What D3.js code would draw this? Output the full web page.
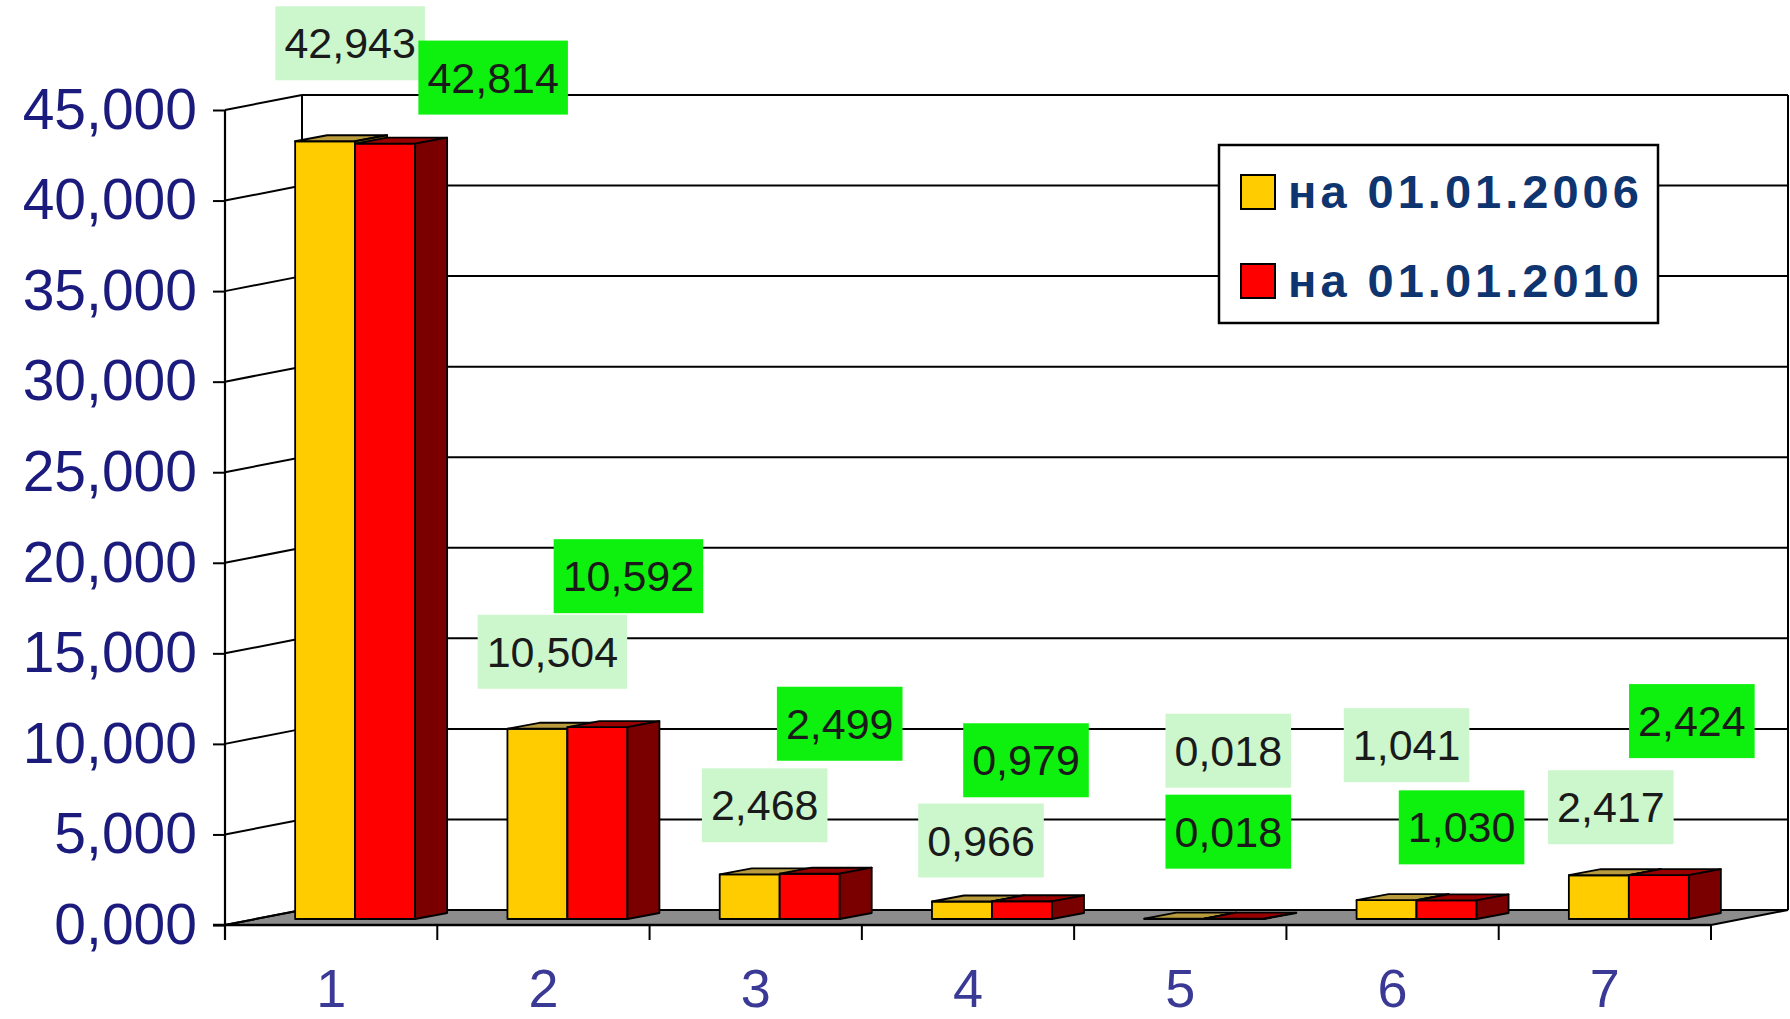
<!DOCTYPE html>
<html><head><meta charset="utf-8">
<script src="https://cdn.jsdelivr.net/npm/d3@7"></script>
<style>html,body{margin:0;padding:0;background:#fff;} svg{display:block}</style>
</head><body><svg id="chart" width="1790" height="1019"></svg>
<script>
// ---- data ----
const categories = ["1", "2", "3", "4", "5", "6", "7"];
const seriesNames = ["на 01.01.2006", "на 01.01.2010"];
const values2006 = [42.943, 10.504, 2.468, 0.966, 0.018, 1.041, 2.417];
const values2010 = [42.814, 10.592, 2.499, 0.979, 0.018, 1.030, 2.424];
const yTicks = [0, 5, 10, 15, 20, 25, 30, 35, 40, 45];

// ---- layout (label offsets from bar-top centre, px) ----
const labelOffsets2006 = [[25,-98],[15,-77],[15,-69],[19,-61],[54,-168],[20,-155],[12,-68]];
const labelOffsets2010 = [[108,-66],[31,-151],[30,-150],[4,-141],[-6,-87],[15,-73],[33,-154]];

const FONT = "'Liberation Sans', Arial, sans-serif";
const svg = d3.select("#chart");
const FRONT_L = 225, FRONT_R = 1711, BASE = 925, TOP = 110;
const DX = 77, DY = -15;     // wall depth
const OX = 24, OY = -6;      // bar front offset
const BDX = 32, BDY = -6;    // bar depth

const x0 = d3.scaleBand().domain(categories).range([FRONT_L, FRONT_R]).paddingInner(0).paddingOuter(0);
const x1 = d3.scaleBand().domain(seriesNames).range([-60, 60]);
const y = d3.scaleLinear().domain([0, 45]).range([BASE, TOP]);
const fmt = d3.formatLocale({decimal: ",", thousands: " ", grouping: [3], currency: ["", ""]}).format(".3f");

const series = [
  {name: seriesNames[0], values: values2006, front: "#ffcc00", top: "#b89b3c", side: "#8a6f00", label: "#ccf7cc", offs: labelOffsets2006},
  {name: seriesNames[1], values: values2010, front: "#ff0000", top: "#990000", side: "#7a0000", label: "#0ef00e", offs: labelOffsets2010}
];

// ---- walls & floor ----
const walls = svg.append("g");
const backL = FRONT_L + DX, backR = FRONT_R + DX;
walls.append("polygon")
  .attr("points", [[FRONT_L, BASE], [FRONT_R, BASE], [backR, BASE + DY], [backL, BASE + DY]].map(p => p.join(",")).join(" "))
  .attr("fill", "#8c8c8c").attr("stroke", "#000").attr("stroke-width", 2);
yTicks.forEach(t => {
  const yy = y(t);
  walls.append("line").attr("x1", FRONT_L).attr("y1", yy).attr("x2", backL).attr("y2", yy + DY)
    .attr("stroke", "#000").attr("stroke-width", 2);
  walls.append("line").attr("x1", backL).attr("y1", yy + DY).attr("x2", backR).attr("y2", yy + DY)
    .attr("stroke", "#000").attr("stroke-width", 2);
});
walls.append("line").attr("x1", backL).attr("y1", y(45) + DY).attr("x2", backL).attr("y2", BASE + DY).attr("stroke", "#000").attr("stroke-width", 2);
walls.append("line").attr("x1", backR).attr("y1", y(45) + DY).attr("x2", backR).attr("y2", BASE + DY).attr("stroke", "#000").attr("stroke-width", 2);

// ---- bars ----
const bars = svg.append("g");
categories.forEach((c, i) => {
  series.forEach(s => {
    const v = s.values[i];
    const xl = x0(c) + x0.bandwidth() / 2 + x1(s.name) + OX;
    const xr = xl + x1.bandwidth();
    const yt = y(v) + OY, yb = y(0) + OY;
    const g = bars.append("g").attr("stroke", "#000").attr("stroke-width", 1.8).attr("stroke-linejoin", "round");
    g.append("polygon").attr("points", [[xl, yb], [xl, yt], [xr, yt], [xr, yb]].map(p => p.join(",")).join(" ")).attr("fill", s.front);
    g.append("polygon").attr("points", [[xl, yt], [xl + BDX, yt + BDY], [xr + BDX, yt + BDY], [xr, yt]].map(p => p.join(",")).join(" ")).attr("fill", s.top);
    g.append("polygon").attr("points", [[xr, yt], [xr + BDX, yt + BDY], [xr + BDX, yb + BDY], [xr, yb]].map(p => p.join(",")).join(" ")).attr("fill", s.side);
  });
});

// ---- axes ----
const yAxis = d3.axisLeft(y).tickValues(yTicks).tickFormat(fmt).tickSize(12).tickSizeOuter(0).tickPadding(16);
const gy = svg.append("g").attr("transform", `translate(${FRONT_L},0)`).call(yAxis);
gy.select(".domain").remove();
gy.selectAll(".tick line").attr("stroke", "#000").attr("stroke-width", 2);
gy.attr("font-family", FONT).attr("font-size", 57);
gy.selectAll(".tick text").attr("fill", "#1b1b7d");
svg.append("line").attr("x1", FRONT_L).attr("y1", TOP).attr("x2", FRONT_L).attr("y2", BASE + 15).attr("stroke", "#000").attr("stroke-width", 2.2);

const xAxis = d3.axisBottom(x0).tickSize(0).tickPadding(44);
const gx = svg.append("g").attr("transform", `translate(0,${BASE})`).call(xAxis);
gx.select(".domain").remove();
gx.attr("font-family", FONT).attr("font-size", 54);
gx.selectAll(".tick text").attr("fill", "#3a3a96");
svg.append("line").attr("x1", FRONT_L - 12).attr("y1", BASE).attr("x2", FRONT_R).attr("y2", BASE).attr("stroke", "#000").attr("stroke-width", 2.5);
d3.range(categories.length + 1).forEach(k => {
  const xx = FRONT_L + k * x0.step();
  svg.append("line").attr("x1", xx).attr("y1", BASE).attr("x2", xx).attr("y2", BASE + 15).attr("stroke", "#000").attr("stroke-width", 2);
});

// ---- legend ----
const lg = svg.append("g").attr("transform", "translate(1219,145)");
lg.append("rect").attr("width", 439).attr("height", 178).attr("fill", "#fff").attr("stroke", "#000").attr("stroke-width", 2.5);
series.forEach((s, k) => {
  const yy = 30 + k * 89;
  lg.append("rect").attr("x", 22).attr("y", yy).attr("width", 34).attr("height", 34).attr("fill", s.front).attr("stroke", "#000").attr("stroke-width", 2);
  lg.append("text").attr("x", 69).attr("y", yy + 33).text(s.name)
    .attr("font-family", FONT).attr("font-weight", "bold").attr("font-size", 47)
    .attr("letter-spacing", 4).attr("fill", "#0f3570");
});

// ---- data labels ----
const labels = svg.append("g").attr("font-family", FONT).attr("font-size", 43);
categories.forEach((c, i) => {
  series.forEach(s => {
    const v = s.values[i];
    const cx = x0(c) + x0.bandwidth() / 2 + x1(s.name) + x1.bandwidth() / 2 + OX + s.offs[i][0];
    const cy = y(v) + OY + s.offs[i][1];
    const g = labels.append("g");
    const rect = g.append("rect").attr("fill", s.label);
    const t = g.append("text").attr("x", cx).attr("y", cy + 15).attr("text-anchor", "middle").attr("fill", "#1a1a1a").text(fmt(v));
    const w = t.node().getComputedTextLength() + 18;
    rect.attr("x", cx - w / 2).attr("y", cy - 37).attr("width", w).attr("height", 74);
  });
});
</script></body></html>
